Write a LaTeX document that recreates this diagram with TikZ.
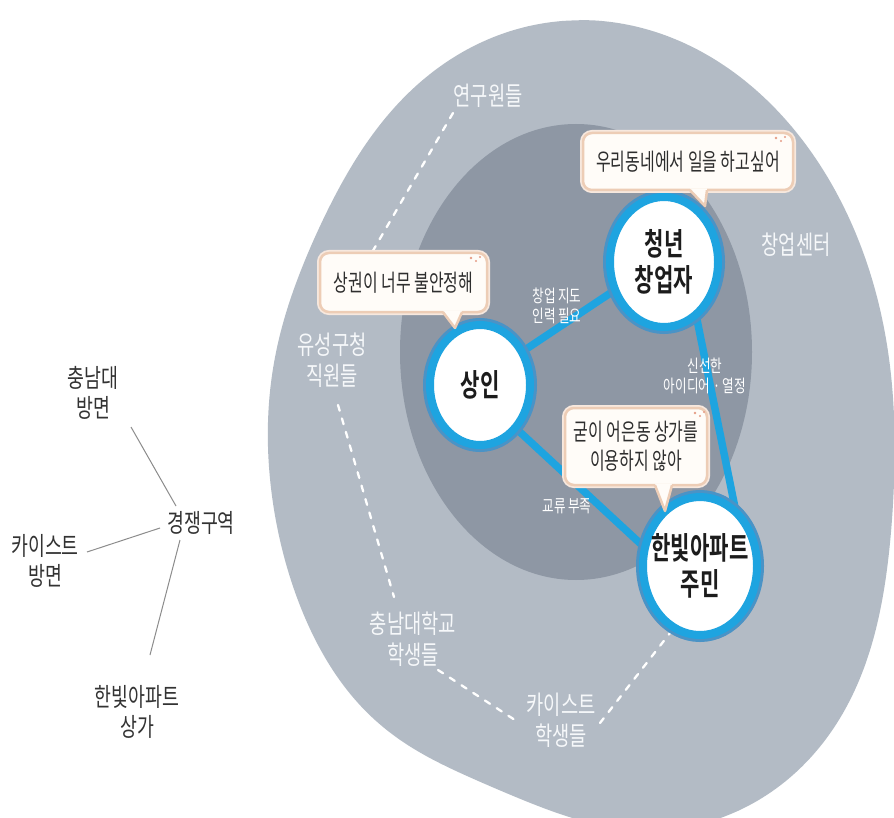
\documentclass[tikz,border=0pt]{standalone}
\usepackage{fontspec}
\setmainfont{Noto Sans CJK KR}[FakeStretch=0.72, BoldFont={Noto Sans CJK KR Bold}]
\newfontfamily\nodefont{Noto Sans CJK KR Bold}[FakeStretch=0.68]
\newfontfamily\bubfont{Noto Sans CJK KR}[FakeStretch=0.68]
\usetikzlibrary{shapes.geometric}
\pgfdeclarelayer{back}
\pgfdeclarelayer{bg}
\pgfsetlayers{back,bg,main}
\definecolor{outerg}{HTML}{B3BBC5}
\definecolor{innerg}{HTML}{8E97A4}
\definecolor{ringb}{HTML}{1EA4E0}
\definecolor{ringh}{HTML}{4A93C6}
\definecolor{bubbleb}{HTML}{EDCDB6}
\definecolor{bubblef}{HTML}{FFFCF8}
\definecolor{bubtxt}{HTML}{2E2E2E}
\definecolor{nodetxt}{HTML}{1C1C1C}
\definecolor{sidetxt}{HTML}{333333}
\definecolor{linegray}{HTML}{8C8C8C}
\definecolor{ringtxt}{HTML}{F6F8FA}
\definecolor{dotc}{HTML}{E59C86}
\tikzset{declare function={
  Rell(\t)=1267.65/sqrt((4.05*cos(\t))^2+(3.13*sin(\t))^2);
  Rsh(\t)=Rell(\t)+38*exp(0-((\t-305)/30)^2)-28*exp(0-((\t-258)/20)^2)-12*exp(0-((\t-140)/25)^2);
}}
\begin{document}
\begin{tikzpicture}[x=1pt,y=-1pt,
  actor/.style={ellipse, fill=white, draw=ringb, line width=8pt,
    preaction={draw=ringh, line width=14pt}, inner sep=0pt},
  lbl/.style={align=center, text=nodetxt, font=\nodefont\fontsize{31}{36}\selectfont},
  link/.style={draw=ringb, line width=7.5pt},
  bubble/.style={rectangle, rounded corners=9pt, fill=bubblef, draw=bubbleb,
    line width=2.5pt, inner sep=0pt, align=center, text=bubtxt,
    font=\bubfont\fontsize{23.5}{29}\selectfont,
    preaction={draw=bubbleb!45, line width=6pt}},
  ptr/.style={draw=bubbleb, line width=2.5pt, line join=round},
  ringlbl/.style={align=center, text=ringtxt, font=\fontsize{26}{31}\selectfont},
  elab/.style={align=center, text=white, font=\fontsize{17.5}{20}\selectfont},
  side/.style={align=center, text=sidetxt, font=\fontsize{25.5}{30}\selectfont},
  dotline/.style={draw=white, line width=2.3pt, line cap=round, dash pattern=on 6pt off 8pt},
  sideline/.style={draw=linegray, line width=1pt}]
\useasboundingbox (0,0) rectangle (894,818);

\begin{pgfonlayer}{back}
\fill[white] (0,0) rectangle (894,818);
\fill[outerg] plot[domain=90:450, samples=145, smooth, variable=\t]
  ({580+Rsh(\t)*cos(\t)}, {425-Rsh(\t)*sin(\t)}) -- cycle;
\fill[innerg] (576,352) ellipse [x radius=176pt, y radius=228pt];
\end{pgfonlayer}

% actors
\node[actor, minimum width=108pt, minimum height=130pt,
  label={[lbl]center:청년\\창업자}] (cy) at (664,262) {};
\node[actor, minimum width=100pt, minimum height=120pt,
  label={[lbl]center:상인}] (sg) at (480,385) {};
\node[actor, minimum width=114pt, minimum height=138pt,
  label={[lbl]center:한빛아파트\\주민}] (hb) at (700,566) {};

\begin{pgfonlayer}{bg}
\draw[link] (sg.38) -- (cy.210);
\draw[link] (cy.-60) -- (hb.60);
\draw[link] (sg.-50) -- (hb.160);
% dashed relations in the outer ring
\coordinate (d1a) at (453,113); \coordinate (d1b) at (335,316);
\coordinate (d2a) at (338,405); \coordinate (d2b) at (394,597);
\coordinate (d3a) at (438,670); \coordinate (d3b) at (518,722);
\coordinate (d4a) at (600,723); \coordinate (d4b) at (670,633);
\draw[dotline] (d1a) -- (d1b);
\draw[dotline] (d2a) -- (d2b);
\draw[dotline] (d3a) -- (d3b);
\draw[dotline] (d4a) -- (d4b);
\end{pgfonlayer}

% edge labels
\node[elab] (e1) at (557,306) {창업 지도\\인력 필요};
\node[elab] (e2) at (705,376) {신선한\\아이디어 · 열정};
\node[elab] (e3) at (567,506) {교류 부족};

% ring labels
\node[ringlbl] (r1) at (488,96) {연구원들};
\node[ringlbl] (r2) at (796,245) {창업센터};
\node[ringlbl] (r3) at (332,360) {유성구청\\직원들};
\node[ringlbl] (r4) at (413,639) {충남대학교\\학생들};
\node[ringlbl] (r5) at (561,720) {카이스트\\학생들};

% speech bubbles
\node[bubble, minimum width=210pt, minimum height=57pt] (b1) at (688,161.5) {우리동네에서 일을 하고싶어};
\fill[bubblef] (690,188.5) -- (705,206) -- (707,188.5) -- cycle;
\draw[ptr] (690,190.2) -- (705,206) -- (707,190.2);
\node[bubble, minimum width=167pt, minimum height=59pt] (b2) at (403.5,282.5) {상권이 너무 불안정해};
\fill[bubblef] (443,310.5) -- (455,328) -- (462,310.5) -- cycle;
\draw[ptr] (443,312.2) -- (455,328) -- (462,312.2);
\node[bubble, minimum width=142pt, minimum height=77pt] (b3) at (636,446.5) {굳이 어은동 상가를\\이용하지 않아};
\fill[bubblef] (655,483.5) -- (665,511) -- (672,483.5) -- cycle;
\draw[ptr] (655,485.2) -- (665,511) -- (672,485.2);
% little corner marks
\foreach \b/\px/\py in {b1/776/138, b2/471/258, b3/695/413}{
  \fill[dotc] (\px,\py) circle (1.3pt);
  \fill[dotc] (\px+5,\py+3) circle (1.1pt);
  \fill[dotc] (\px+9,\py-1) circle (1.2pt);
}

% left side
\node[side] (cn) at (93,393) {충남대\\방면};
\node[side] (ks) at (45,561) {카이스트\\방면};
\node[side] (gj) at (201,523) {경쟁구역};
\node[side] (hs) at (137,712) {한빛아파트\\상가};
\coordinate (l1a) at (131,427); \coordinate (l1b) at (176,506);
\coordinate (l2a) at (87,552);  \coordinate (l2b) at (160,528);
\coordinate (l3a) at (180,540); \coordinate (l3b) at (150,655);
\draw[sideline] (l1a) -- (l1b);
\draw[sideline] (l2a) -- (l2b);
\draw[sideline] (l3a) -- (l3b);
\end{tikzpicture}
\end{document}
